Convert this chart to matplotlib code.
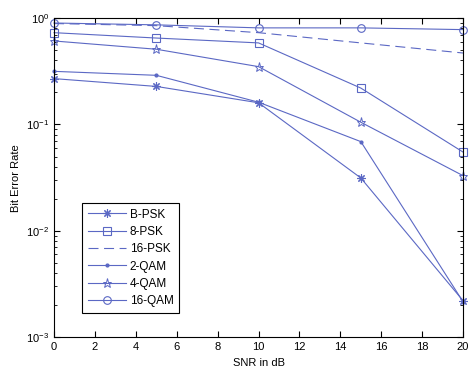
import matplotlib
matplotlib.use('Agg')
import matplotlib.pyplot as plt
from matplotlib.ticker import LogLocator, NullFormatter

plt.rcParams['font.family'] = 'Liberation Sans'
plt.rcParams['font.size'] = 8

# Data
snr = [0, 5, 10, 15, 20]
ber_bpsk = [0.27, 0.228, 0.16, 0.0314, 0.0022]
ber_8psk = [0.73, 0.65, 0.585, 0.22, 0.055]
ber_16psk = [0.89, 0.85, 0.73, 0.585, 0.47]
ber_2qam = [0.316, 0.29, 0.162, 0.069, 0.00215]
ber_4qam = [0.61, 0.51, 0.35, 0.105, 0.033]
ber_16qam = [0.90, 0.865, 0.81, 0.81, 0.78]

col = '#5b68c4'

fig = plt.figure(figsize=(4.74, 3.78), dpi=100)
ax = fig.add_axes([0.114, 0.108, 0.863, 0.844])

lw = 0.8
kw = dict(color=col, lw=lw, clip_on=False)
ax.semilogy(snr, ber_bpsk, marker=(8, 2, 0), ms=6, mew=0.8, label='B-PSK', **kw)
ax.semilogy(snr, ber_8psk, marker='s', ms=5.5, mfc='none', mew=0.8, label='8-PSK', **kw)
ax.semilogy(snr, ber_16psk, ls=(0, (9, 5)), label='16-PSK', **kw)
ax.semilogy(snr, ber_2qam, marker='.', ms=4, label='2-QAM', **kw)
ax.semilogy(snr, ber_4qam, marker='*', ms=6.5, mfc='none', mew=0.7, label='4-QAM', **kw)
ax.semilogy(snr, ber_16qam, marker='o', ms=5.5, mfc='none', mew=0.8, label='16-QAM', **kw)

ax.set_xlim(0, 20)
ax.set_ylim(1e-3, 1)
ax.set_xticks(range(0, 21, 2))
ax.yaxis.set_major_locator(LogLocator(base=10, numticks=10))
ax.yaxis.set_minor_locator(LogLocator(base=10, subs=range(2, 10), numticks=20))
ax.yaxis.set_minor_formatter(NullFormatter())
ax.tick_params(which='both', direction='in', top=True, right=True, labelsize=8)
ax.tick_params(which='major', length=4)
ax.tick_params(which='minor', length=2)

ax.set_xlabel('SNR in dB', fontsize=8)
ax.set_ylabel('Bit Error Rate', fontsize=8)

leg = ax.legend(loc='upper left', bbox_to_anchor=(0.055, 0.44), fontsize=8.5,
                handlelength=3.2, labelspacing=0.45, borderpad=0.5, handletextpad=0.3,
                fancybox=False, framealpha=1, edgecolor='black')
leg.get_frame().set_linewidth(0.8)

plt.savefig('out.png', dpi=100)
